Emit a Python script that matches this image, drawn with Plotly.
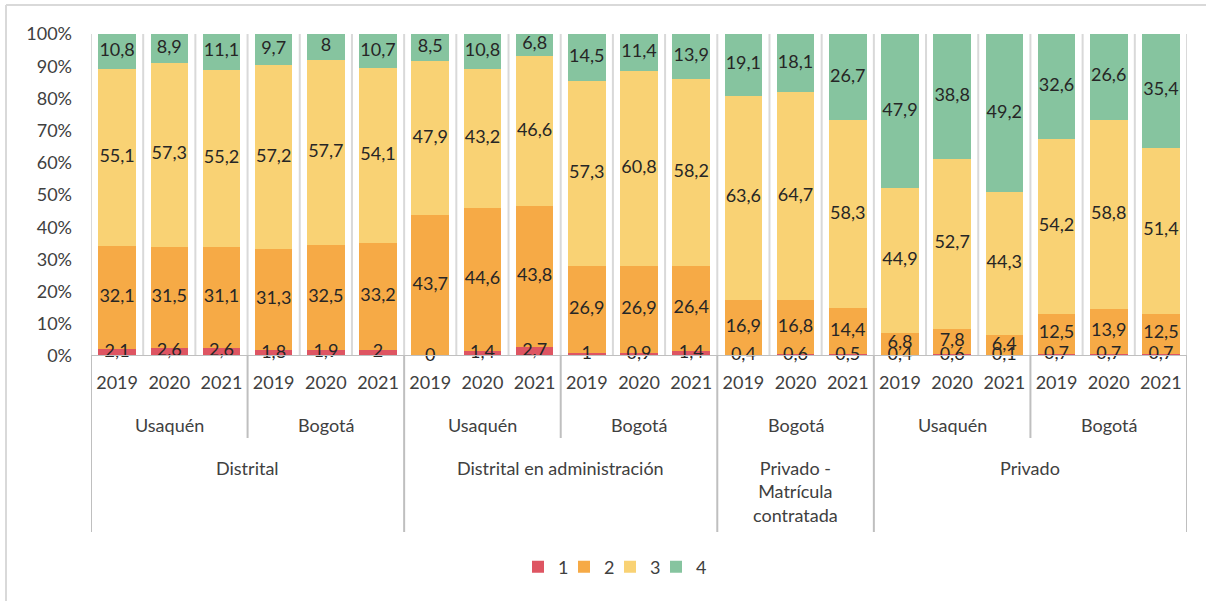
import plotly.graph_objects as go

# ---- data ----
years = ["2019", "2020", "2021"] * 7
locations = ["Usaquén", "Bogotá", "Usaquén", "Bogotá", "Bogotá", "Usaquén", "Bogotá"]
location_sizes = [3, 3, 3, 3, 3, 3, 3]
sectors = ["Distrital", "Distrital en administración", "Privado -<br>Matrícula<br>contratada", "Privado"]
sector_sizes = [6, 6, 3, 6]
y_ticks = [0, 10, 20, 30, 40, 50, 60, 70, 80, 90, 100]
y_tick_labels = ["0%", "10%", "20%", "30%", "40%", "50%", "60%", "70%", "80%", "90%", "100%"]

series_names = ["1", "2", "3", "4"]
s1 = [2.1, 2.6, 2.6, 1.8, 1.9, 2, 0, 1.4, 2.7, 1, 0.9, 1.4, 0.4, 0.6, 0.5, 0.4, 0.6, 0.1, 0.7, 0.7, 0.7]
s2 = [32.1, 31.5, 31.1, 31.3, 32.5, 33.2, 43.7, 44.6, 43.8, 26.9, 26.9, 26.4, 16.9, 16.8, 14.4, 6.8, 7.8, 6.4, 12.5, 13.9, 12.5]
s3 = [55.1, 57.3, 55.2, 57.2, 57.7, 54.1, 47.9, 43.2, 46.6, 57.3, 60.8, 58.2, 63.6, 64.7, 58.3, 44.9, 52.7, 44.3, 54.2, 58.8, 51.4]
s4 = [10.8, 8.9, 11.1, 9.7, 8, 10.7, 8.5, 10.8, 6.8, 14.5, 11.4, 13.9, 19.1, 18.1, 26.7, 47.9, 38.8, 49.2, 32.6, 26.6, 35.4]
series = [s1, s2, s3, s4]
colors = ["#DE5562", "#F6AA46", "#F9D274", "#86C49F"]

FONT = "Lato"
TXT = "#404040"

# ---- layout geometry (pixels) ----
W, H = 1206, 601
L, R, T, B = 91, 19, 34, 245
plot_h = H - T - B


def py(px):  # pixel y -> paper y
    return (H - B - px) / plot_h


def pxx(px):  # pixel x -> paper x
    return (px - L) / (W - L - R)


n = len(years)
xs = list(range(n))

fig = go.Figure()

for name, vals, col in zip(series_names, series, colors):
    fig.add_trace(go.Bar(
        x=xs, y=vals, name=name, marker=dict(color=col, line=dict(width=0)),
        width=0.72, hoverinfo="skip",
    ))

# invisible spacer entry so the last legend label is not clipped
fig.add_trace(go.Bar(x=[None], y=[None], name=" ",
                     marker=dict(color="rgba(255,255,255,0)", line=dict(width=0)),
                     hoverinfo="skip", showlegend=True))

# data labels at centre of each normalised segment
totals = [sum(s[i] for s in series) for i in range(n)]
cum = [0.0] * n
for vals in series:
    mids = []
    for i in range(n):
        v = vals[i] / totals[i] * 100
        mids.append(cum[i] + v / 2)
        cum[i] += v
    fig.add_trace(go.Scatter(
        x=xs, y=mids, mode="text",
        text=[("%g" % v).replace(".", ",") for v in vals],
        textfont=dict(family=FONT, size=18, color="#262626"),
        showlegend=False, hoverinfo="skip", cliponaxis=False,
    ))

shapes = []
# vertical gridlines at category boundaries
for k in range(n + 1):
    shapes.append(dict(type="line", xref="x", yref="paper", x0=k - 0.5, x1=k - 0.5,
                       y0=0, y1=1, line=dict(color="#d9d9d9", width=2), layer="below"))

# group separators below the axis
sector_bounds = [-0.5]
for s in sector_sizes:
    sector_bounds.append(sector_bounds[-1] + s)
loc_bounds = [-0.5]
for s in location_sizes:
    loc_bounds.append(loc_bounds[-1] + s)
for b in loc_bounds:
    if b not in sector_bounds:
        shapes.append(dict(type="line", xref="x", yref="paper", x0=b, x1=b,
                           y0=0, y1=py(438), line=dict(color="#bfbfbf", width=2)))
for b in sector_bounds:
    shapes.append(dict(type="line", xref="x", yref="paper", x0=b, x1=b,
                       y0=0, y1=py(532), line=dict(color="#bfbfbf", width=2)))
# x axis line
shapes.append(dict(type="line", xref="paper", yref="y", x0=pxx(91), x1=pxx(1187),
                   y0=0, y1=0, line=dict(color="#bfbfbf", width=2)))
# chart border (top and left)
shapes.append(dict(type="line", xref="paper", yref="paper", x0=pxx(6), x1=pxx(1210),
                   y0=py(5), y1=py(5), line=dict(color="#d9d9d9", width=2)))
shapes.append(dict(type="line", xref="paper", yref="paper", x0=pxx(6), x1=pxx(6),
                   y0=py(5), y1=py(605), line=dict(color="#d9d9d9", width=2)))

annotations = []
pos = -0.5
for loc, sz in zip(locations, location_sizes):
    annotations.append(dict(x=pos + sz / 2, y=py(425), xref="x", yref="paper", text=loc,
                            showarrow=False, yanchor="middle",
                            font=dict(family=FONT, size=18, color=TXT)))
    pos += sz
pos = -0.5
for sec, sz in zip(sectors, sector_sizes):
    annotations.append(dict(x=pos + sz / 2, y=py(455), xref="x", yref="paper", text=sec,
                            showarrow=False, yanchor="top",
                            font=dict(family=FONT, size=18, color=TXT)))
    pos += sz

fig.update_layout(
    width=W, height=H,
    margin=dict(l=L, r=R, t=T, b=B, autoexpand=False),
    barmode="stack", barnorm="percent",
    plot_bgcolor="white", paper_bgcolor="white",
    font=dict(family=FONT, size=18, color=TXT),
    shapes=shapes, annotations=annotations,
    legend=dict(orientation="h", x=pxx(518), xanchor="left", y=py(567), yanchor="middle",
                entrywidth=1, entrywidthmode="pixels", bgcolor="rgba(0,0,0,0)",
                font=dict(family=FONT, size=18, color=TXT), traceorder="normal"),
    xaxis=dict(range=[-0.5, n - 0.5], tickvals=xs, ticktext=years, showgrid=False,
               zeroline=False, showline=False, ticks="", ticklabelstandoff=14,
               tickfont=dict(family=FONT, size=18, color=TXT)),
    yaxis=dict(range=[0, 100], tickvals=y_ticks, ticktext=y_tick_labels,
               showgrid=False, zeroline=False, showline=False, ticks="",
               ticklabelstandoff=18, tickfont=dict(family=FONT, size=18, color=TXT)),
)

fig.write_html("out.html", config={"displayModeBar": False},
               post_script="document.body.style.margin='0';")
